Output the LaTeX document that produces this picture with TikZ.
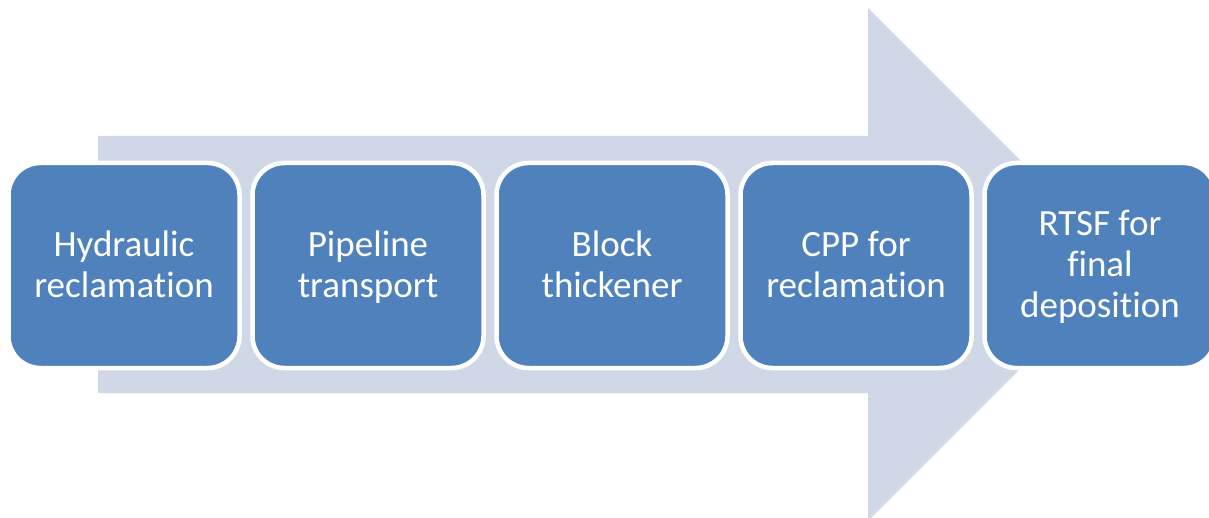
\documentclass[tikz,border=0pt]{standalone}
\usepackage{fontspec}
\setmainfont{Carlito}[Ligatures={NoCommon,NoContextual}]
\definecolor{arrowfill}{HTML}{D0D8E8}
\definecolor{boxfill}{HTML}{4F81BD}
\begin{document}
\begin{tikzpicture}[x=1pt,y=1pt,
  stage/.style={draw=white, line width=4.5pt, fill=boxfill, rounded corners=32pt,
    minimum width=231pt, minimum height=205pt, text=white, align=center,
    font=\fontsize{37}{41}\selectfont, inner sep=0pt, text depth=3pt}]
\useasboundingbox (0,0) rectangle (1209,517);
\clip (0,0) rectangle (1209,517);
% big background arrow
\fill[arrowfill] (98,{517-136}) -- (868,{517-136}) -- (868,{517-8}) -- (1124.5,{517-264.5})
  -- (868,{517-521}) -- (868,{517-393}) -- (98,{517-393}) -- cycle;
\node[stage] (s1) at (124,{517-265.5}) {Hydraulic\\reclamation};
\node[stage] (s2) at (368,{517-265.5}) {Pipeline\\transport};
\node[stage] (s3) at (612,{517-265.5}) {Block\\thickener};
\node[stage] (s4) at (856,{517-265.5}) {CPP for\\reclamation};
\node[stage] (s5) at (1100,{517-265.5}) {RTSF for\\final\\deposition};
\end{tikzpicture}
\end{document}
